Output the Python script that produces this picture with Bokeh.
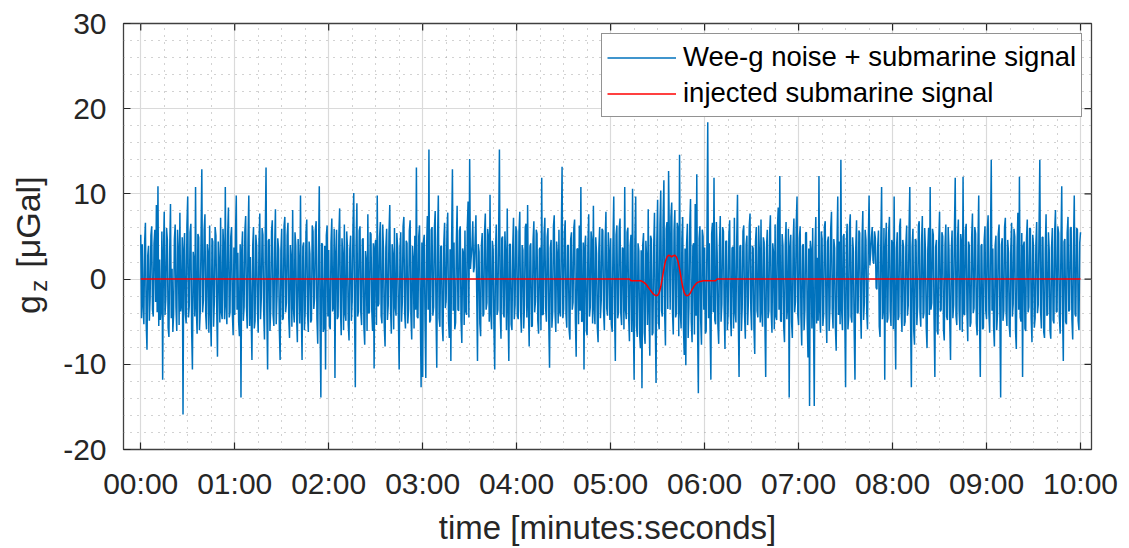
import numpy as np
from bokeh.plotting import figure
from bokeh.layouts import row
from bokeh.models import Range1d, FixedTicker
from bokeh.core.properties import value
from bokeh.embed import file_html
from bokeh.resources import INLINE

# ---- data: Wee-g gravimeter noise + submarine signal ----
# samples on whole seconds (mXX) and on half seconds (hXX), minute by minute
m00 = [5.2, 4.1, -5.3, 6.6, -8.3, 3.9, -2.1, 6.2, -4.4, 5.8,
       8.7, 10.9, 2.3, -3.6, -11.8, 7.9, -2.4, 4.6, -6.8, 8.8,
       1.2, -4.1, 6.4, -6.1, 3.3, 7.8, -2.9, -15.9, 5.4, -5.2,
       9.7, -3.1, 6.5, -10.6, 2.2, 10.8, -6.4, 4.9, -3.8, 12.9,
       -2.5, 7.6, -5.9, 3.1, 6.3, -7.9, 4.4, -2.6, 5.1, -9.1,
       1.8, 7.2, -4.7, 3.6, 10.8, -5.3, 8.4, -3.9, 6.1, -6.6]
h00 = [-4.6, -3.1, 4.4, -5.2, 2.8, -4.9, 5.1, -3.6, 4.2, -2.7,
       -3.9, -5.5, -4.8, 5.6, 3.1, -4.2, 6.0, -5.7, 3.4, -4.6,
       -6.2, 4.7, -3.3, 5.8, -5.4, -3.8, 4.9, 3.6, -4.1, 6.3,
       -4.5, 5.5, -5.9, 3.2, -4.4, -3.5, 5.3, -6.0, 4.6, -3.9,
       5.8, -4.2, 4.1, -6.3, -3.7, 4.8, -5.6, 6.1, -3.3, 4.4,
       -5.1, -3.9, 5.9, -4.7, -3.2, 5.2, -4.5, 5.0, -4.0, 3.7]
m01 = [-4.2, 9.8, 3.1, -6.7, -13.9, 5.6, -3.3, 7.4, -5.8, 9.8,
       2.6, -9.5, 6.1, -4.9, 3.8, -6.3, 7.7, -2.1, 5.2, -7.1,
       13.1, -10.6, 4.7, -3.4, 6.9, -5.5, 8.2, -1.9, 3.5, -9.5,
       5.9, -4.6, 7.3, -2.8, 6.6, -6.9, 2.4, 8.1, -5.1, 3.9,
       -7.4, 1.5, 9.8, -9.5, 4.3, -3.7, 7.0, -6.2, 2.9, -4.8,
       5.6, -2.2, 6.8, -7.6, 10.9, -13.9, 4.1, -5.7, -10.6, 6.3]
h01 = [5.3, -3.6, -5.0, 4.1, 3.4, -4.9, 5.7, -3.2, 4.6, -5.5,
       -4.4, 3.9, -5.8, 5.2, -3.5, 4.3, -4.7, 6.0, -3.8, 4.9,
       -3.7, 4.5, -6.1, 5.6, -4.2, 3.6, -5.3, 4.8, -5.9, 3.3,
       -4.8, 6.2, -3.9, 5.1, -4.5, 4.0, -5.6, -3.4, 5.5, -4.3,
       4.7, -5.2, -3.6, 3.8, -6.0, 5.4, -4.1, 4.4, -5.1, 6.3,
       -3.5, 5.8, -4.6, 3.2, -5.0, 4.2, -6.2, 3.9, 5.1, -4.4]
m02 = [3.4, -5.9, 7.1, -3.2, -11.6, 5.8, -4.4, 8.3, -6.6, 2.7,
       6.4, -4.9, 3.6, -7.2, 5.1, -2.5, 10.1, -12.7, 8.9, -3.8,
       6.2, -5.4, 4.8, -7.7, 2.1, 7.6, -3.9, 5.3, -6.1, -10.5,
       4.6, 9.8, -2.9, 6.7, -5.2, 3.3, -7.9, 5.9, -3.1, 8.7,
       -6.4, 2.8, 6.0, -4.3, 3.7, -10.6, 5.5, -2.7, 7.3, -5.8,
       4.2, -3.5, 6.9, -7.1, 2.4, 5.1, 13.1, -4.6, 6.3, -12.7]
h02 = [-5.5, 4.3, -3.8, 5.9, 3.0, -4.7, 5.2, -3.4, 4.8, -6.0,
       -4.1, 5.6, -5.3, 3.5, -4.9, 6.1, -3.7, 4.0, -4.4, 5.7,
       -3.9, 4.6, -5.7, 3.3, -6.1, -4.0, 5.5, -3.6, 4.2, 3.8,
       -5.4, -3.2, 5.0, -4.3, 6.4, -5.6, 3.7, -4.8, 5.3, -3.5,
       4.1, -5.9, -3.3, 5.4, -4.6, 3.6, -5.0, 6.2, -3.9, 4.5,
       -5.2, 5.7, -4.2, 3.9, -5.8, -3.6, -4.4, 5.0, -3.7, 4.3]
m03 = [-11.5, 5.2, -11.6, 7.4, 15.2, -4.8, 6.1, -3.3, 8.0, -10.4,
       9.8, -5.6, 3.9, -7.3, 6.6, -2.4, 7.8, -6.9, -9.6, 12.9,
       4.3, -5.1, 8.6, -3.7, 6.2, -7.5, 3.1, 5.7, -4.2, 9.1,
       14.1, 2.6, 6.8, 1.4, 7.5, -9.6, 3.2, -6.7, 5.4, -4.1,
       7.7, -2.8, 4.9, 9.9, -5.9, 3.5, -10.6, 6.4, -3.6, 15.2,
       -7.0, 5.0, -4.5, 2.7, 8.3, -9.6, 4.1, -6.0, 7.2, -3.0]
h03 = [4.4, -4.9, 3.7, -3.6, -5.1, 5.8, -4.3, 6.0, -3.9, 4.7,
       -4.6, 3.8, -5.5, 4.2, -3.4, 5.6, -4.8, 3.5, 4.9, -3.7,
       -5.9, 4.3, -3.6, 5.7, -4.9, 3.6, -5.4, -3.8, 6.1, -4.5,
       1.2, 3.9, 0.8, 4.6, -1.5, 4.1, -5.2, 3.9, -4.4, 5.5,
       -3.6, 5.9, -5.0, -4.1, 4.5, -5.8, 3.4, -4.2, 5.3, -3.8,
       4.8, -4.0, 5.6, -6.0, -3.5, 4.1, -5.3, 3.7, -4.7, 6.2]
m04 = [5.6, -4.7, 7.9, -6.3, 3.4, -3.1, 6.5, 8.7, -7.9, 4.2,
       -5.5, 6.8, -2.6, 5.3, -6.4, 3.7, 11.9, -4.1, 7.2, -5.0,
       6.0, -10.4, 4.6, -3.8, 7.5, -6.2, 2.9, 5.8, -4.4, 13.2,
       -3.5, 6.9, -5.7, 4.0, -7.1, 5.5, -2.7, 7.0, -9.1, 3.6,
       6.3, 10.8, -4.9, -10.6, 5.1, -6.6, 7.6, -3.3, 4.4, 8.6,
       -5.3, 3.0, -7.4, 6.1, -2.5, 5.7, -6.0, 7.9, -4.3, 3.2]
h04 = [-4.3, 5.5, -3.7, 4.0, -5.8, 6.1, -4.5, -3.3, 3.8, -5.6,
       4.6, -3.9, 5.8, -4.9, 3.5, -6.0, -4.2, 5.3, -3.4, 4.9,
       -5.1, 3.6, -5.7, 6.2, -3.8, 4.4, -5.2, -3.9, 5.0, -4.6,
       5.4, -4.1, 3.9, -5.9, 4.7, -3.6, 6.0, -4.8, 3.5, -5.3,
       -3.7, -5.0, 4.3, 3.8, -6.1, 3.9, -4.4, 5.6, -5.2, -3.5,
       4.9, -5.7, 3.6, -4.6, 5.9, -3.8, 4.5, -3.4, 5.5, -4.8]
m05 = [4.8, -6.2, 9.7, -9.6, 6.3, -3.9, 7.1, -5.4, 3.5, 10.8,
       -4.7, 6.0, -7.3, 5.2, 10.6, -11.8, 9.7, -6.8, 3.3, -8.1,
       -12.8, 5.4, -7.6, 2.4, 8.2, -9.0, 4.7, -6.3, 7.8, -12.2,
       9.3, -5.9, 10.4, -4.4, 11.6, -7.8, 6.7, 12.7, -3.6, 9.0,
       -6.5, 8.1, -4.0, 5.9, 14.6, -5.8, 7.3, -8.9, -10.1, 6.5,
       -3.2, 9.4, -7.4, 4.2, 8.8, 12.3, -13.4, 6.2, -7.7, 5.0]
h05 = [-5.3, 4.1, -3.8, 5.2, -4.6, 6.0, -4.0, 3.7, -5.9, -3.6,
       5.5, -4.4, 3.9, -6.2, -4.8, 4.6, -5.5, 4.2, -6.4, 3.4,
       4.0, -6.3, 4.5, -5.4, -3.6, 5.1, -6.6, 3.8, -4.7, 4.4,
       -4.9, 6.4, -3.7, 7.1, -4.1, 5.9, -3.5, 4.6, 7.3, -3.9,
       5.7, -4.5, 6.6, -6.7, -3.9, 4.8, -5.7, 3.6, 4.1, -6.9,
       6.1, -5.0, 3.9, -6.5, -4.3, -5.6, 4.7, -4.9, 5.8, -3.6]
m06 = [3.7, -6.1, 18.4, 4.2, -11.8, 6.6, 11.9, -5.3, 3.1, -7.6,
       7.4, -2.9, 5.6, -8.2, 4.5, -4.0, 6.9, -6.7, 3.8, 7.2,
       -5.1, 9.9, -11.5, 4.0, -3.4, 6.3, -7.0, 5.1, -2.2, 7.7,
       -6.0, 3.6, -8.8, 6.1, -4.5, 2.8, 7.0, -5.6, 4.3, -11.5,
       5.8, -3.7, 7.5, -6.3, 3.0, 6.4, -4.8, 8.4, 12.1, -5.0,
       3.9, -7.4, 6.7, -3.1, -13.9, 5.2, -6.9, 7.1, -2.6, 9.7]
h06 = [-6.4, 4.9, -4.6, -5.7, 5.3, -3.9, -4.8, 6.7, -5.5, 4.1,
       -5.0, 6.1, -3.6, 4.4, -6.0, 5.2, -4.3, 3.6, -5.8, -3.9,
       4.7, -4.5, 3.8, -6.1, 5.6, -4.2, 4.0, -5.4, 6.2, -3.5,
       3.9, -5.8, 4.4, -3.7, 6.3, -5.1, -4.0, 4.9, -5.3, 3.6,
       -4.6, 5.5, -3.9, 4.2, -5.9, -4.4, 6.0, -3.6, -4.9, 5.3,
       -5.6, 4.0, -4.7, 5.9, 3.8, -5.0, 4.3, -3.9, 6.4, -4.2]
m07 = [-5.4, 6.2, -7.8, 4.1, -3.6, 5.5, -9.2, -14.9, 3.4, 6.0,
       -14.9, 7.3, 2.5, 12.1, -6.3, 4.7, -4.1, 6.8, -7.5, 5.0,
       -3.3, 7.9, -5.8, 3.6, -8.4, 9.7, 4.4, 14.0, -6.0, 5.3,
       -12.7, 6.5, -4.3, 7.6, -5.1, 3.2, -11.8, 6.9, -3.9, 5.4,
       -7.0, 8.0, -2.7, 4.6, -5.9, 9.8, 3.0, 6.1, 1.8, 4.8,
       -1.2, 5.7, -6.8, 10.8, -3.5, -11.8, 6.6, -4.6, 7.3, -5.5]
h07 = [4.8, -4.3, 3.9, -6.0, 5.4, -4.7, 3.6, 4.5, -5.8, -4.1,
       3.7, -5.2, -4.9, -3.8, 5.6, -5.5, 6.2, -3.9, 4.4, -6.1,
       5.9, -3.6, 4.7, -5.7, 3.8, -4.2, -5.3, -3.7, 5.0, -4.6,
       4.2, -5.9, 6.1, -4.4, 4.9, -6.2, 3.7, -4.0, 5.7, -3.5,
       4.5, -4.8, 5.8, -3.9, 4.1, 1.6, 4.9, 2.2, 5.6, -1.0,
       3.9, -5.6, 4.3, -4.7, 6.0, 3.7, -5.1, 5.4, -3.8, 4.6]
m08 = [4.2, 9.7, -10.6, 5.5, -4.4, 7.1, -6.2, 3.8, -5.0, 6.3,
       -3.1, 10.8, -12.7, 5.9, -7.7, 4.5, -3.2, 6.8, -5.6, 7.4,
       -4.0, 3.3, -8.1, 6.0, 10.8, -2.8, 5.2, -11.5, 4.6, -6.5,
       7.9, -3.6, 5.0, -7.2, 6.4, -4.8, 3.5, -9.5, 5.7, -3.0,
       11.9, -5.4, 7.0, -6.0, 4.3, 12.0, -4.2, 6.5, -7.3, 3.9,
       -5.1, 7.7, -3.4, 5.3, -6.6, 9.8, -11.5, 4.1, -5.7, 6.2]
h08 = [-5.9, -4.0, 3.6, -4.8, 6.2, -3.7, 4.6, -5.5, 4.0, -4.3,
       5.6, -4.9, 3.8, -6.0, 4.7, -5.4, 6.3, -3.9, 4.2, -4.6,
       6.0, -5.7, 3.5, -4.2, -3.6, 5.9, -4.7, 3.8, -6.1, 4.4,
       -3.8, 5.5, -5.9, 4.1, -4.4, 6.1, -5.0, 3.4, -4.6, 5.8,
       -4.3, 4.8, -3.7, 5.3, -6.2, -4.1, 5.7, -3.8, 4.4, -5.6,
       4.9, -4.0, 6.1, -5.2, 3.7, -4.6, 3.9, -5.9, 4.5, -3.7]
m09 = [-4.7, 7.5, -6.3, 14.0, 3.6, -7.9, 5.1, -4.0, 6.4, -13.9,
       4.8, -3.7, 7.2, -5.5, 3.1, -6.8, 6.6, -2.9, 5.0, -8.2,
       7.8, 12.0, -5.0, -11.5, 4.4, -6.1, 7.0, -3.3, 5.9, -7.4,
       3.7, -4.6, 6.7, -3.0, 14.0, -5.8, 4.9, -6.9, 7.6, -4.1,
       3.4, -7.0, 6.0, -5.2, 8.1, -3.8, 5.4, -6.4, 10.9, -9.6,
       4.7, -5.3, 7.3, -3.6, 6.1, -7.1, 9.8, -4.4, 5.8, -6.0,
       5.5]
h09 = [5.8, -4.1, 4.4, -3.7, -5.6, 3.9, -6.0, 5.3, -4.2, 4.0,
       -4.9, 6.1, -3.8, 4.6, -5.5, 3.6, -4.4, 5.9, -6.1, 3.8,
       -3.6, -4.5, 5.4, 3.9, -5.8, 4.7, -3.9, 6.0, -4.6, 5.2,
       -5.7, 4.2, -4.0, 5.8, -3.7, 4.9, -6.2, 3.6, -4.3, 5.5,
       -6.0, 3.7, -4.8, 5.6, -3.9, 6.2, -4.5, 4.1, -3.6, 4.4,
       -5.0, 5.4, -3.8, 5.9, -4.7, 3.8, -4.1, 6.0, -4.9, 4.3]

# injected submarine signal (seconds 313 .. 367), zero elsewhere
signal_start = 313
signal_vals = [-0.2, -0.2, -0.2, -0.2, -0.2, -0.2, -0.2, -0.25, -0.35, -0.5,
               -0.7, -0.95, -1.2, -1.45, -1.7, -1.85, -1.95, -1.9, -1.6, -0.9,
               0.1, 1.2, 2.1, 2.6, 2.8, 2.75, 2.6, 2.75, 2.8, 2.6,
               2.1, 1.2, 0.1, -0.9, -1.6, -1.9, -1.95, -1.85, -1.6, -1.2,
               -0.9, -0.65, -0.45, -0.35, -0.28, -0.24, -0.2, -0.2, -0.2, -0.2,
               -0.2, -0.2, -0.2, -0.2, -0.2]

tick_secs = [0, 60, 120, 180, 240, 300, 360, 420, 480, 540, 600]
tick_labels = ["00:00", "01:00", "02:00", "03:00", "04:00", "05:00",
               "06:00", "07:00", "08:00", "09:00", "10:00"]
ytick_vals = [-20, -10, 0, 10, 20, 30]
ytick_labels = ["-20", "-10", "0", "10", "20", "30"]

whole = np.array(m00 + m01 + m02 + m03 + m04 + m05 + m06 + m07 + m08 + m09)
half = np.array(h00 + h01 + h02 + h03 + h04 + h05 + h06 + h07 + h08 + h09)
t_whole = np.arange(len(whole), dtype=float)
t_half = np.arange(len(half), dtype=float) + 0.5
order = np.argsort(np.concatenate([t_whole, t_half]), kind="stable")
t = np.concatenate([t_whole, t_half])[order]
gz = np.concatenate([whole, half])[order]

t_sig = np.arange(len(whole), dtype=float)
sig = np.zeros(len(whole))
sig[signal_start:signal_start + len(signal_vals)] = signal_vals

FONT = "Liberation Sans"
TXT = "#262626"
XMIN, XMAX, YMIN, YMAX = -11.0, 607.0, -20.0, 30.0
LEFT_W = 60
MAIN_W = 1129 - LEFT_W
FRAME_TOP, FRAME_BOTTOM = 23, 452
FRAME_W = 1091 - 122
FRAME_H = FRAME_BOTTOM - FRAME_TOP

# ---------- main plot ----------
p = figure(width=MAIN_W, height=548, output_backend="svg", toolbar_location=None,
           x_range=Range1d(XMIN, XMAX), y_range=Range1d(YMIN, YMAX),
           min_border_left=122 - LEFT_W, min_border_right=38,
           min_border_top=FRAME_TOP, min_border_bottom=548 - FRAME_BOTTOM,
           background_fill_color="white", border_fill_color="white")

p.line(t, gz, line_color="#0072BD", line_width=1.5,
       legend_label="Wee-g noise + submarine signal")
p.line(t_sig, sig, line_color="#FF0000", line_width=1.5,
       legend_label="injected submarine signal")

xt = FixedTicker(ticks=tick_secs,
                 minor_ticks=[s for s in range(0, 601, 15) if s % 60 != 0])
yt = FixedTicker(ticks=ytick_vals,
                 minor_ticks=[v for v in range(-20, 31, 2) if v % 10 != 0])

p.xaxis.ticker = xt
p.yaxis.ticker = yt
p.xaxis.major_label_overrides = {s: l for s, l in zip(tick_secs, tick_labels)}
p.yaxis.major_label_overrides = {v: l for v, l in zip(ytick_vals, ytick_labels)}
p.xgrid.ticker = xt
p.ygrid.ticker = yt

for g in (p.xgrid, p.ygrid):
    g.grid_line_color = "#dadada"
    g.grid_line_width = 1.2
    g.minor_grid_line_color = "#a5a5a5"
    g.minor_grid_line_dash = "1 6"
    g.minor_grid_line_width = 1

for ax in (p.xaxis[0], p.yaxis[0]):
    ax.axis_line_color = None
    ax.major_tick_in = 7
    ax.major_tick_out = 0
    ax.major_tick_line_color = TXT
    ax.major_tick_line_width = 1.2
    ax.minor_tick_line_color = None
    ax.major_label_text_font = FONT
    ax.major_label_text_font_size = "30px"
    ax.major_label_text_color = TXT

p.xaxis.major_label_standoff = 13
p.yaxis.major_label_standoff = 13
p.xaxis.axis_label = "time [minutes:seconds]"
p.xaxis.axis_label_text_font = FONT
p.xaxis.axis_label_text_font_size = "33px"
p.xaxis.axis_label_text_font_style = "normal"
p.xaxis.axis_label_text_color = TXT
p.xaxis.axis_label_standoff = 6

# inward tick marks on the top and right edges of the box
tick_len_y = 7 * (YMAX - YMIN) / FRAME_H
tick_len_x = 7 * (XMAX - XMIN) / FRAME_W
p.segment(x0=tick_secs, y0=[YMAX] * len(tick_secs), x1=tick_secs,
          y1=[YMAX - tick_len_y] * len(tick_secs), line_color=TXT, line_width=1.2)
p.segment(x0=[XMAX] * len(ytick_vals), y0=ytick_vals,
          x1=[XMAX - tick_len_x] * len(ytick_vals), y1=ytick_vals,
          line_color=TXT, line_width=1.2)

p.outline_line_color = "#404040"
p.outline_line_width = 1.3

leg = p.legend[0]
leg.location = (478, 332)
leg.label_text_font = FONT
leg.label_text_font_size = "27.5px"
leg.label_text_color = "#000000"
leg.glyph_width = 69
leg.glyph_height = 35
leg.label_height = 36
leg.label_standoff = 7
leg.padding = 5
leg.spacing = 0
leg.margin = 0
leg.border_line_color = "#262626"
leg.border_line_width = 1
leg.background_fill_color = "white"
leg.background_fill_alpha = 1

# ---------- narrow strip holding the rotated y-axis label "g_z [μGal]" ----------
# its frame is aligned with the main frame, so use page-pixel coordinates
lab = figure(width=LEFT_W, height=548, output_backend="svg", toolbar_location=None,
             x_range=Range1d(0, LEFT_W),
             y_range=Range1d(548 - FRAME_BOTTOM, 548 - FRAME_TOP),
             x_axis_type=None, y_axis_type=None, min_border=0,
             min_border_top=FRAME_TOP, min_border_bottom=548 - FRAME_BOTTOM,
             title=None, outline_line_color=None, background_fill_color="white",
             border_fill_color="white")
lab.grid.visible = False
ang = np.pi / 2
lab.text(x=[27], y=[548 - 306], text=["g"], angle=ang, text_font=value(FONT),
         text_font_size=value("34px"), text_color=TXT, text_align="center",
         text_baseline="middle")
lab.text(x=[38], y=[548 - 287], text=["z"], angle=ang, text_font=value(FONT),
         text_font_size=value("24px"), text_color=TXT, text_align="center",
         text_baseline="middle")
lab.text(x=[27], y=[548 - 223], text=["[μGal]"], angle=ang, text_font=value(FONT),
         text_font_size=value("34px"), text_color=TXT, text_align="center",
         text_baseline="middle")

layout = row(lab, p, spacing=0)
open("out.html", "w").write(file_html(layout, INLINE))
